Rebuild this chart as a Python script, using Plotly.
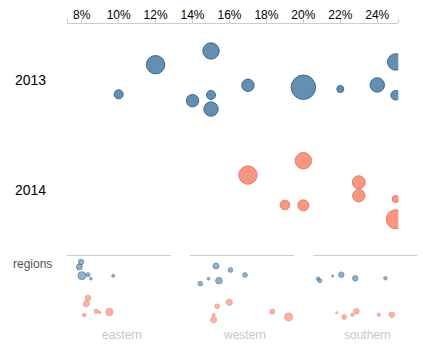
import plotly.graph_objects as go

# ---------------- data ----------------
years = ["2013", "2014"]
regions = ["eastern", "western", "southern"]
tick_pcts = [8, 10, 12, 14, 16, 18, 20, 22, 24]
x_range = [7.22, 25.14]

# main chart: rate (%), vertical jitter (row units), bubble diameter
rate_2013 = [10, 12, 15, 14, 15, 15, 17, 20, 22, 24, 25, 25]
jit_2013 = [0.13, -0.139, -0.264, 0.188, 0.136, 0.264, 0.048, 0.066, 0.082, 0.045, -0.164, 0.139]
size_2013 = [10, 19.4, 17.4, 13.4, 10, 15.4, 13.4, 25.4, 8, 15.4, 17.4, 10.6]

rate_2014 = [17, 20, 23, 23, 19, 20, 25, 25]
jit_2014 = [-0.136, -0.266, -0.07, 0.052, 0.136, 0.139, 0.082, 0.266]
size_2014 = [19.4, 17.4, 14, 13.4, 10.6, 12, 8, 20]

# regional small multiples
reg_rate_2013 = {
    "eastern": [9.6, 9.3, 9.75, 10.8, 11.3, 15.15],
    "western": [11.7, 14.2, 16.7, 10.4, 12.2, 9.0],
    "southern": [8.1, 8.4, 10.6, 12.1, 14.5, 19.7],
}
reg_jit_2013 = {
    "eastern": [-0.333, -0.194, 0.047, 0.019, 0.131, 0.047],
    "western": [-0.222, -0.111, 0.028, 0.131, 0.186, 0.269],
    "southern": [0.131, 0.186, 0.056, 0.019, 0.119, 0.119],
}
reg_size_2013 = {
    "eastern": [5.4, 6, 8, 4, 2.6, 3],
    "western": [6, 4.6, 4.6, 2.6, 6.6, 4.6],
    "southern": [3.4, 4, 2, 5.4, 5.4, 3.4],
}
reg_rate_2014 = {
    "eastern": [10.8, 10.5, 10.15, 12.2, 12.8, 14.5],
    "western": [14.0, 11.9, 11.3, 11.3, 21.4, 24.2],
    "southern": [11.3, 12.6, 14.0, 14.7, 18.55, 20.8],
}
reg_jit_2014 = {
    "eastern": [-0.333, -0.175, 0.139, 0.036, 0.064, 0.056],
    "western": [-0.214, -0.103, 0.139, 0.269, 0.047, 0.194],
    "southern": [0.075, 0.194, 0.131, 0.036, 0.131, 0.131],
}
reg_size_2014 = {
    "eastern": [5.4, 6, 3.4, 4, 2.6, 7.4],
    "western": [6, 4.6, 2.6, 6, 5, 8],
    "southern": [2, 4.6, 3.4, 5.4, 3.4, 5.4],
}

# ---------------- style ----------------
W, H = 423, 352
FONT = "Liberation Sans, Arial, sans-serif"
BLUE_FILL, BLUE_LINE = "rgb(100,143,176)", "rgb(58,105,148)"
RED_FILL, RED_LINE = "rgb(245,151,129)", "rgb(239,122,98)"
GRID = "#cccccc"


def px_x(p):
    return p / W


def px_y(p):
    return 1 - p / H


fig = go.Figure()

# main bubbles
for yi, (rate, jit, size, fill, line) in enumerate([
    (rate_2013, jit_2013, size_2013, BLUE_FILL, BLUE_LINE),
    (rate_2014, jit_2014, size_2014, RED_FILL, RED_LINE),
]):
    fig.add_trace(go.Scatter(
        x=rate, y=[yi + j for j in jit], mode="markers",
        marker=dict(size=[s - 1 for s in size], color=fill,
                    line=dict(color=line, width=1), opacity=1),
        xaxis="x", yaxis="y", hoverinfo="skip", cliponaxis=True,
    ))

# small multiples
axnames = ["x2", "x3", "x4"]
for ri, reg in enumerate(regions):
    for yi, (rate, jit, size, fill, line) in enumerate([
        (reg_rate_2013, reg_jit_2013, reg_size_2013, BLUE_FILL, BLUE_LINE),
        (reg_rate_2014, reg_jit_2014, reg_size_2014, RED_FILL, RED_LINE),
    ]):
        fig.add_trace(go.Scatter(
            x=rate[reg], y=[yi + j for j in jit[reg]], mode="markers",
            marker=dict(size=size[reg], color=fill,
                        line=dict(color=line, width=1)),
            xaxis=axnames[ri], yaxis="y2", hoverinfo="skip",
        ))

tickvals = [x_range[0]] + tick_pcts + [x_range[1]]
ticktext = [""] + [f"{t}%" for t in tick_pcts] + [""]

# main y: pixel = 80 + v*110
main_top_px, main_bot_px = 24.3, 240
ytop = (main_top_px - 80) / 110
ybot = (main_bot_px - 80) / 110
# mini y: pixel = 274 + v*36
mini_top_px, mini_bot_px = 256.3, 328
mtop = (mini_top_px - 274) / 36
mbot = (mini_bot_px - 274) / 36

layout = dict(
    width=W, height=H,
    margin=dict(l=0, r=0, t=0, b=0),
    paper_bgcolor="white", plot_bgcolor="white",
    showlegend=False,
    font=dict(family=FONT, color="#000"),
    xaxis=dict(
        domain=[px_x(67.3), px_x(398.3)], range=x_range, side="top",
        anchor="y", tickmode="array", tickvals=tickvals, ticktext=ticktext,
        ticks="outside", ticklen=4, tickcolor=GRID, tickwidth=1,
        ticklabelstandoff=-4,
        showline=True, linecolor=GRID, linewidth=1,
        showgrid=False, zeroline=False,
        tickfont=dict(size=12, color="#000", family=FONT),
    ),
    yaxis=dict(
        domain=[px_y(main_bot_px), px_y(main_top_px)],
        range=[ybot, ytop], visible=False, showgrid=False, zeroline=False,
    ),
    yaxis2=dict(
        domain=[px_y(mini_bot_px), px_y(mini_top_px)],
        range=[mbot, mtop], visible=False, showgrid=False, zeroline=False,
        anchor="x2",
    ),
)
panel_px = [(67.3, 171), (190, 294), (313, 417)]
for i, (a, b) in enumerate(panel_px):
    layout[f"xaxis{i + 2}"] = dict(
        domain=[px_x(a), px_x(b)], range=x_range, side="top", anchor="y2",
        showline=True, linecolor=GRID, linewidth=1, ticks="",
        showticklabels=False, showgrid=False, zeroline=False,
    )
fig.update_layout(**layout)

# row labels
for yi, yr in enumerate(years):
    fig.add_annotation(
        text=yr, xref="paper", yref="y", x=px_x(30), y=yi,
        showarrow=False, xanchor="center", yanchor="middle",
        font=dict(size=14, color="#000", family=FONT),
    )
fig.add_annotation(
    text="regions", xref="paper", yref="paper", x=px_x(32.5), y=px_y(264),
    showarrow=False, xanchor="center", yanchor="middle",
    font=dict(size=12, color="#555", family=FONT),
)
for i, reg in enumerate(regions):
    a, b = panel_px[i]
    fig.add_annotation(
        text=reg, xref="paper", yref="paper", x=px_x((a + b) / 2 + 2.5), y=px_y(335),
        showarrow=False, xanchor="center", yanchor="middle",
        font=dict(size=12, color="#c8c8c8", family=FONT),
    )

fig.write_html("out.html")
